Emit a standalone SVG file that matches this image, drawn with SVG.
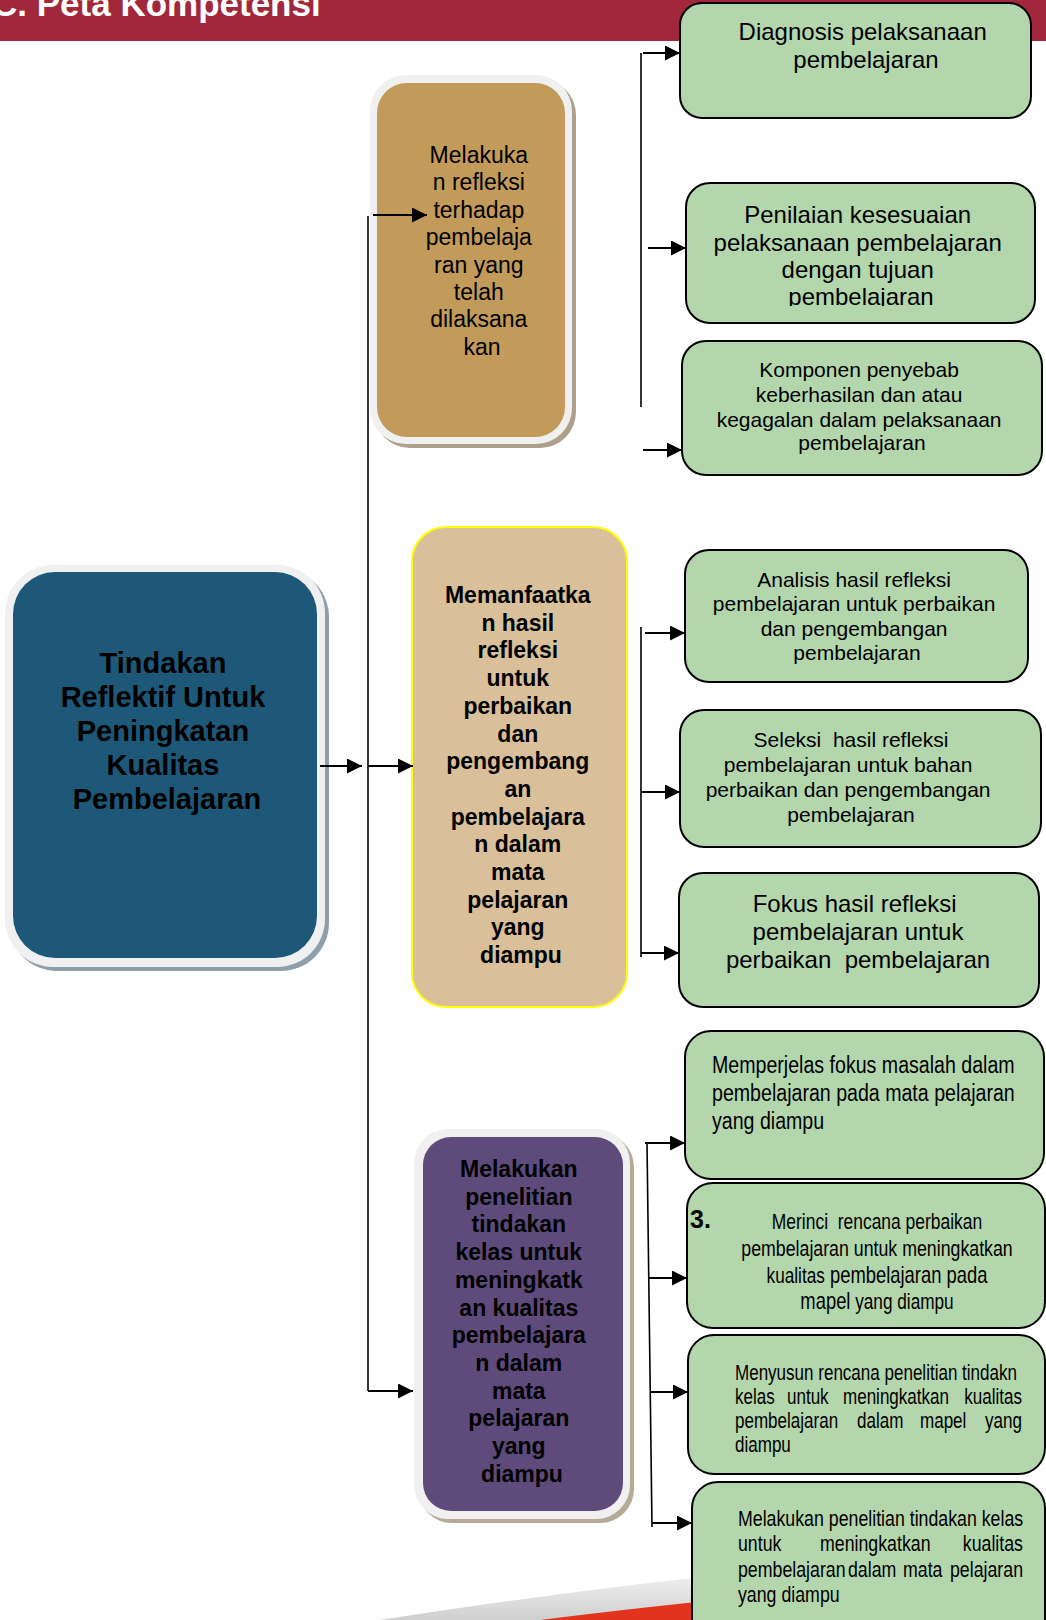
<svg xmlns="http://www.w3.org/2000/svg" width="1046" height="1620" viewBox="0 0 1046 1620">
  <defs>
    <style>
      text { font-family: 'Liberation Sans', Arial, sans-serif; fill: #000; }
      .c { text-anchor: middle; }
      .b { font-weight: bold; }
      .pre { white-space: pre; }
      .leaf { fill: #B4D6AC; stroke: #000; stroke-width: 2; }
      .ring { fill: #F0F0F0; }
      .wire { fill: none; stroke: #000; stroke-width: 2; }
      .trunk { fill: none; stroke: #000; stroke-width: 1.6; }
      .arr { marker-end: url(#ah); }
    </style>
    <marker id="ah" markerUnits="userSpaceOnUse" markerWidth="15" markerHeight="15" refX="15" refY="7.5" orient="auto">
      <path d="M0,0 L15,7.5 L0,15 Z" fill="#000"/>
    </marker>
    <linearGradient id="haze" gradientUnits="userSpaceOnUse" x1="0" y1="1555" x2="0" y2="1620">
      <stop offset="0" stop-color="#FFFFFF"/>
      <stop offset="1" stop-color="#CFCFCF"/>
    </linearGradient>
    <clipPath id="clipPenilaian">
      <rect x="686" y="183" width="349" height="123"/>
    </clipPath>
  </defs>

  <rect width="1046" height="1620" fill="#FFFFFF"/>

  <!-- header band -->
  <rect x="0" y="0" width="1046" height="41" fill="#A1283A"/>
  <text x="-8" y="16" font-size="35" class="b" style="fill:#FFFFFF">C. Peta Kompetensi</text>

  <!-- footer swoosh -->
  <path d="M380 1620 Q700 1570 1046 1545 L1046 1620 Z" fill="url(#haze)"/>
  <path d="M540 1620 Q760 1592 1046 1572 L1046 1620 Z" fill="#E2341D"/>

  <!-- root node -->
  <g id="node-root">
    <rect x="9" y="569" width="320" height="402" rx="48" fill="#8E9EAB"/>
    <rect x="5" y="565" width="320" height="402" rx="48" class="ring"/>
    <rect x="13" y="572" width="304" height="386" rx="42" fill="#1E5878"/>
    <text class="c b" font-size="29">
      <tspan x="167" y="673">Tindakan</tspan>
      <tspan x="167" y="707">Reflektif Untuk</tspan>
      <tspan x="167" y="741">Peningkatan</tspan>
      <tspan x="167" y="775">Kualitas</tspan>
      <tspan x="167" y="809">Pembelajaran</tspan>
    </text>
  </g>

  <!-- branch 1 -->
  <g id="node-refleksi">
    <rect x="374" y="79" width="202" height="369" rx="36" fill="#ADA08A"/>
    <rect x="370" y="75" width="202" height="369" rx="36" class="ring"/>
    <rect x="377" y="83" width="188" height="354" rx="30" fill="#C29A5A"/>
    <text class="c" font-size="23">
      <tspan x="482" y="163">Melakuka</tspan>
      <tspan x="482" y="190.4">n refleksi</tspan>
      <tspan x="482" y="217.8">terhadap</tspan>
      <tspan x="482" y="245.2">pembelaja</tspan>
      <tspan x="482" y="272.6">ran yang</tspan>
      <tspan x="482" y="300">telah</tspan>
      <tspan x="482" y="327.4">dilaksana</tspan>
      <tspan x="482" y="354.8">kan</tspan>
    </text>
  </g>

  <!-- branch 2 -->
  <g id="node-manfaat">
    <rect x="412" y="527" width="215" height="480" rx="34" fill="#D9C09A" stroke="#FFFF00" stroke-width="2"/>
    <text class="c b" font-size="23">
      <tspan x="521" y="603">Memanfaatka</tspan>
      <tspan x="521" y="630.7">n hasil</tspan>
      <tspan x="521" y="658.4">refleksi</tspan>
      <tspan x="521" y="686.1">untuk</tspan>
      <tspan x="521" y="713.8">perbaikan</tspan>
      <tspan x="521" y="741.5">dan</tspan>
      <tspan x="521" y="769.2">pengembang</tspan>
      <tspan x="521" y="796.9">an</tspan>
      <tspan x="521" y="824.6">pembelajara</tspan>
      <tspan x="521" y="852.3">n dalam</tspan>
      <tspan x="521" y="880">mata</tspan>
      <tspan x="521" y="907.7">pelajaran</tspan>
      <tspan x="521" y="935.4">yang</tspan>
      <tspan x="521" y="963.1">diampu</tspan>
    </text>
  </g>

  <!-- branch 3 -->
  <g id="node-ptk">
    <rect x="418" y="1133" width="216" height="390" rx="34" fill="#B5AA98"/>
    <rect x="414" y="1129" width="216" height="390" rx="34" class="ring"/>
    <rect x="423" y="1137" width="200" height="374" rx="28" fill="#5E4A7B"/>
    <text class="c b" font-size="23">
      <tspan x="522" y="1177">Melakukan</tspan>
      <tspan x="522" y="1204.7">penelitian</tspan>
      <tspan x="522" y="1232.4">tindakan</tspan>
      <tspan x="522" y="1260.1">kelas untuk</tspan>
      <tspan x="522" y="1287.8">meningkatk</tspan>
      <tspan x="522" y="1315.5">an kualitas</tspan>
      <tspan x="522" y="1343.2">pembelajara</tspan>
      <tspan x="522" y="1370.9">n dalam</tspan>
      <tspan x="522" y="1398.6">mata</tspan>
      <tspan x="522" y="1426.3">pelajaran</tspan>
      <tspan x="522" y="1454">yang</tspan>
      <tspan x="522" y="1481.7">diampu</tspan>
    </text>
  </g>

  <!-- leaves of branch 1 -->
  <g id="leaf-diagnosis">
    <rect x="680" y="3" width="351" height="115" rx="22" class="leaf"/>
    <text class="c" font-size="24">
      <tspan x="866" y="40">Diagnosis pelaksanaan</tspan>
      <tspan x="866" y="68">pembelajaran</tspan>
    </text>
  </g>
  <g id="leaf-penilaian">
    <rect x="686" y="183" width="349" height="140" rx="24" class="leaf"/>
    <text class="c" font-size="24" clip-path="url(#clipPenilaian)">
      <tspan x="861" y="223">Penilaian kesesuaian</tspan>
      <tspan x="861" y="251">pelaksanaan pembelajaran</tspan>
      <tspan x="861" y="278">dengan tujuan</tspan>
      <tspan x="861" y="305">pembelajaran</tspan>
    </text>
  </g>
  <g id="leaf-komponen">
    <rect x="682" y="341" width="360" height="134" rx="24" class="leaf"/>
    <text class="c" font-size="21">
      <tspan x="862" y="377">Komponen penyebab</tspan>
      <tspan x="862" y="402">keberhasilan dan atau</tspan>
      <tspan x="862" y="427">kegagalan dalam pelaksanaan</tspan>
      <tspan x="862" y="450">pembelajaran</tspan>
    </text>
  </g>

  <!-- leaves of branch 2 -->
  <g id="leaf-analisis">
    <rect x="685" y="550" width="343" height="132" rx="24" class="leaf"/>
    <text class="c" font-size="21">
      <tspan x="857" y="587">Analisis hasil refleksi</tspan>
      <tspan x="857" y="611">pembelajaran untuk perbaikan</tspan>
      <tspan x="857" y="636">dan pengembangan</tspan>
      <tspan x="857" y="660">pembelajaran</tspan>
    </text>
  </g>
  <g id="leaf-seleksi">
    <rect x="680" y="710" width="361" height="137" rx="24" class="leaf"/>
    <text class="c pre" font-size="21" x="851" y="747">Seleksi  hasil refleksi</text>
    <text class="c" font-size="21">
      <tspan x="851" y="772">pembelajaran untuk bahan</tspan>
      <tspan x="851" y="797">perbaikan dan pengembangan</tspan>
      <tspan x="851" y="822">pembelajaran</tspan>
    </text>
  </g>
  <g id="leaf-fokus">
    <rect x="679" y="873" width="360" height="134" rx="24" class="leaf"/>
    <text class="c" font-size="24">
      <tspan x="858" y="912">Fokus hasil refleksi</tspan>
      <tspan x="858" y="940">pembelajaran untuk</tspan>
    </text>
    <text class="c pre" font-size="24" x="858" y="968">perbaikan  pembelajaran</text>
  </g>

  <!-- leaves of branch 3 (narrow type, x scaled by 0.8) -->
  <g id="leaf-memperjelas">
    <rect x="685" y="1031" width="359" height="148" rx="26" class="leaf"/>
    <text font-size="24.5" transform="scale(0.8 1)">
      <tspan x="890" y="1073">Memperjelas fokus masalah dalam</tspan>
      <tspan x="890" y="1101">pembelajaran pada mata pelajaran</tspan>
      <tspan x="890" y="1129">yang diampu</tspan>
    </text>
  </g>
  <g id="leaf-merinci">
    <rect x="687" y="1183" width="358" height="145" rx="26" class="leaf"/>
    <text class="b" font-size="25" x="690" y="1228">3.</text>
    <text class="c pre" font-size="21.8" transform="scale(0.8 1)" x="1096.25" y="1229">Merinci  rencana perbaikan</text>
    <text class="c" font-size="22.2" transform="scale(0.8 1)" x="1096.25" y="1256">pembelajaran untuk meningkatkan</text>
    <text class="c" transform="scale(0.8 1)" x="1096.25" y="1283"><tspan font-size="21.5">kualitas</tspan><tspan font-size="23"> pembelajaran pada</tspan></text>
    <text class="c" transform="scale(0.8 1)" x="1096.25" y="1309"><tspan font-size="23">mapel</tspan><tspan font-size="21.5"> yang diampu</tspan></text>
  </g>
  <g id="leaf-menyusun">
    <rect x="688" y="1335" width="357" height="139" rx="26" class="leaf"/>
    <text font-size="21.3" transform="scale(0.8 1)">
      <tspan x="918.75" y="1380">Menyusun rencana penelitian tindakn</tspan>
      <tspan x="918.75" y="1404">kelas</tspan>
      <tspan x="983.75" y="1404">untuk</tspan>
      <tspan x="1053.75" y="1404">meningkatkan</tspan>
      <tspan x="1205.25" y="1404">kualitas</tspan>
      <tspan x="918.75" y="1428">pembelajaran</tspan>
      <tspan x="1071.25" y="1428">dalam</tspan>
      <tspan x="1150" y="1428">mapel</tspan>
      <tspan x="1231.25" y="1428">yang</tspan>
      <tspan x="918.75" y="1452">diampu</tspan>
    </text>
  </g>
  <g id="leaf-ptk">
    <rect x="692" y="1482" width="353" height="170" rx="26" class="leaf"/>
    <text font-size="22.2" transform="scale(0.8 1)">
      <tspan x="922.5" y="1526">Melakukan penelitian tindakan kelas</tspan>
      <tspan x="922.5" y="1551">untuk</tspan>
      <tspan x="1025" y="1551">meningkatkan</tspan>
      <tspan x="1203.5" y="1551">kualitas</tspan>
      <tspan x="922.5" y="1577">pembelajaran</tspan>
      <tspan x="1060" y="1577">dalam</tspan>
      <tspan x="1128.75" y="1577">mata</tspan>
      <tspan x="1187.5" y="1577">pelajaran</tspan>
      <tspan x="922.5" y="1602">yang diampu</tspan>
    </text>
  </g>

  <!-- connectors -->
  <g id="connectors">
    <!-- main trunk -->
    <path class="trunk" d="M368 216 V1391"/>
    <path class="wire arr" d="M368 1391 H413"/>
    <path class="wire arr" d="M373 215 H427"/>
    <path class="wire arr" d="M320 766 H362"/>
    <path class="wire arr" d="M368 766 H413"/>
    <!-- branch 1 fan-out -->
    <path class="trunk" d="M641 53 V407"/>
    <path class="wire arr" d="M643 53 H680"/>
    <path class="wire arr" d="M648 248 H686"/>
    <path class="wire arr" d="M643 450 H682"/>
    <!-- branch 2 fan-out -->
    <path class="trunk" d="M641 627 V957"/>
    <path class="wire arr" d="M645 633 H685"/>
    <path class="wire arr" d="M641 792 H680"/>
    <path class="wire arr" d="M641 953 H679"/>
    <!-- branch 3 fan-out -->
    <path class="trunk" d="M647 1143 L652 1527"/>
    <path class="wire arr" d="M645 1143 H685"/>
    <path class="wire arr" d="M648 1278 H687"/>
    <path class="wire arr" d="M650 1392 H688"/>
    <path class="wire arr" d="M652 1523 H692"/>
  </g>
</svg>
